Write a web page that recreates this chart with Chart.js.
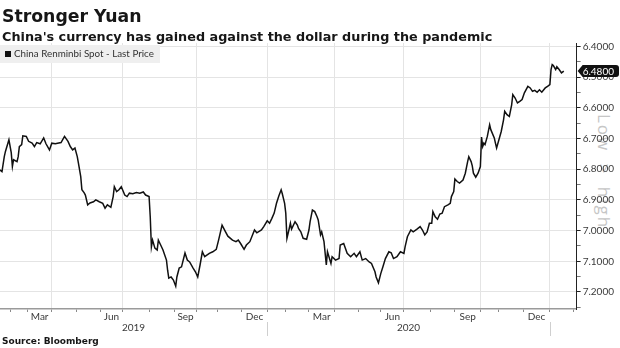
<!DOCTYPE html>
<html><head><meta charset="utf-8">
<script src="https://cdn.jsdelivr.net/npm/chart.js@4.4.1/dist/chart.umd.min.js"></script>
<style>
html,body{margin:0;padding:0;background:#fff;}
#wrap{position:relative;width:620px;height:348px;overflow:hidden;background:#fff;}
#c{position:absolute;left:0;top:0;}
.t{position:absolute;left:2px;font-family:'DejaVu Sans';font-weight:bold;color:#161616;white-space:nowrap;}
#title{top:6px;font-size:17.3px;line-height:20px;}
#sub{top:29.5px;font-size:12.8px;line-height:14px;}
#src{top:336px;font-size:9px;line-height:11px;}
#wm{position:absolute;left:614px;top:114px;transform-origin:0 0;transform:rotate(90deg);font-family:'Open Sans';font-size:17px;letter-spacing:2px;word-spacing:5px;line-height:20px;color:#c6c6c6;white-space:nowrap;}
</style></head><body>
<div id="wrap">
<div id="wm">Low &gt; high</div>
<canvas id="c" width="620" height="348"></canvas>
<div class="t" id="title">Stronger Yuan</div>
<div class="t" id="sub">China's currency has gained against the dollar during the pandemic</div>
<div class="t" id="src">Source: Bloomberg</div>
</div>
<script>
// x = trading-day index counted from 1 Jan 2019 (China onshore calendar)
const tradingDay = [
 13,15,17,18,21,23,24,25,28,29,
 30,32,33,36,38,41,43,45,48,51,
 53,56,58,61,63,66,69,72,74,76,
 78,80,81,83,84,86,87,89,91,94,
 96,99,102,104,106,109,111,112,114,116,
 118,121,123,125,128,131,134,137,139,142,
 143,144,145,147,149,150,152,154,157,158,
 159,161,163,165,166,168,170,173,175,177,
 180,182,184,186,188,190,194,197,200,202,
 205,208,210,214,217,219,221,224,226,229,
 233,235,239,241,244,246,248,250,252,254,
 256,257,259,260,261,263,264,265,268,270,
 271,273,275,278,280,281,283,285,287,288,
 290,291,293,295,296,299,300,303,306,307,
 310,313,316,319,321,324,326,329,332,334,
 337,338,340,342,344,346,349,351,353,356,
 359,362,363,365,368,370,373,376,378,380,
 382,384,386,387,389,391,393,395,397,400,
 402,403,405,406,408,410,413,415,417,418,
 420,421,422,424,426,428,429,430,431,432,
 434,436,437,440,441,442,444,446,448,449,
 451,453,455,456,458,460,462,464,466,469,
 471,473,475,477,479,481,484,486,488,489,
 490,491,493,494,496,498,500
];
const usdCny = [
 6.802,6.808,6.759,6.742,6.704,6.746,6.791,6.769,6.775,6.759,
 6.726,6.720,6.691,6.693,6.709,6.715,6.726,6.713,6.717,6.698,
 6.717,6.737,6.715,6.717,6.715,6.713,6.693,6.709,6.726,6.737,
 6.731,6.759,6.780,6.824,6.867,6.877,6.884,6.916,6.910,6.906,
 6.900,6.906,6.911,6.927,6.916,6.924,6.889,6.857,6.873,6.867,
 6.857,6.884,6.889,6.878,6.880,6.876,6.878,6.874,6.884,6.889,
 6.955,7.053,7.031,7.057,7.063,7.031,7.047,7.063,7.096,7.129,
 7.155,7.151,7.161,7.181,7.151,7.122,7.118,7.073,7.096,7.102,
 7.122,7.134,7.151,7.112,7.069,7.085,7.074,7.069,7.061,7.031,
 6.982,7.004,7.018,7.031,7.036,7.031,7.042,7.061,7.047,7.036,
 6.998,7.007,6.998,6.987,6.968,6.976,6.960,6.943,6.911,6.887,
 6.867,6.880,6.911,6.943,7.025,6.993,6.976,6.995,6.971,6.982,
 6.993,7.004,7.025,7.028,6.998,6.971,6.933,6.938,6.955,6.965,
 7.014,7.004,7.036,7.112,7.069,7.107,7.085,7.096,7.091,7.047,
 7.042,7.074,7.085,7.074,7.085,7.069,7.096,7.091,7.102,7.107,
 7.134,7.151,7.170,7.140,7.116,7.091,7.069,7.072,7.091,7.085,
 7.069,7.074,7.053,7.020,6.998,7.004,6.996,6.987,6.998,7.014,
 7.004,6.976,6.976,6.938,6.955,6.963,6.946,6.943,6.922,6.916,
 6.911,6.889,6.873,6.832,6.840,6.845,6.835,6.813,6.775,6.759,
 6.775,6.789,6.813,6.826,6.813,6.791,6.695,6.726,6.715,6.720,
 6.693,6.655,6.671,6.698,6.715,6.731,6.704,6.677,6.639,6.611,
 6.622,6.628,6.590,6.557,6.568,6.584,6.579,6.573,6.551,6.530,
 6.535,6.546,6.543,6.549,6.541,6.549,6.535,6.530,6.524,6.475,
 6.459,6.462,6.475,6.466,6.475,6.486,6.480
];
const seriesLabel = 'China Renminbi Spot - Last Price';

// axis ranges and tick positions (trading-day index)
const xMin = 13.3, xMax = 511.1;
const yTop = 6.3886, yBottom = 7.2554;
const quarterStarts = [58,119,183,244,302,362,428,488];
const monthStarts = [22,37,79,100,142,164,201,222,260,280,323,342,385,406,444,465,508];
const monthLabelPos = [47.5,109.5,173.5,233,291,352,417,476.5];
const monthLabelText = ['Mar','Jun','Sep','Dec','Mar','Jun','Sep','Dec'];
const yearLabelPos = [128.6,366];
const yearLabelText = ['2019','2020'];
const yearBreaks = [244,488];
const yMajorTicks = [6.4,6.5,6.6,6.7,6.8,6.9,7.0,7.1,7.2];
const yMinorTicks = [6.45,6.55,6.65,6.75,6.85,6.95,7.05,7.15,7.25];

const xTicks = [].concat(
  quarterStarts.map(v=>({value:v,kind:'q',text:''})),
  monthStarts.map(v=>({value:v,kind:'m',text:''})),
  monthLabelPos.map((v,i)=>({value:v,kind:'l',text:monthLabelText[i]}))
).sort((a,b)=>a.value-b.value);
const yrTicks = yearLabelPos.map((v,i)=>({value:v,text:yearLabelText[i]}));
const yTicks = [].concat(
  yMajorTicks.map(v=>({value:v,major:true})),
  yMinorTicks.map(v=>({value:v,major:false}))
).sort((a,b)=>a.value-b.value);

const clear = 'rgba(0,0,0,0)';
const axisFont = {family:'Lato', size:10};

const legendBox = {
  id:'legendBox',
  beforeDatasetsDraw(chart){
    const {ctx, chartArea:a} = chart;
    ctx.save();
    ctx.fillStyle = '#efefef';
    ctx.fillRect(a.left, a.top+2, 160, 18);
    ctx.fillStyle = '#111';
    ctx.fillRect(a.left+5, a.top+8, 6, 6);
    ctx.font = '9.8px Lato';
    ctx.fillStyle = '#333';
    ctx.textBaseline = 'middle';
    ctx.fillText(chart.data.datasets[0].label, a.left+14, a.top+11);
    ctx.restore();
  }
};
const yearSeparators = {
  id:'yearSeparators',
  afterDraw(chart){
    const {ctx} = chart;
    const s = chart.scales.xYear;
    ctx.save();
    ctx.strokeStyle = '#cfcfcf';
    ctx.lineWidth = 1;
    yearBreaks.forEach(v=>{
      const px = Math.round(s.getPixelForValue(v)) + 0.5;
      ctx.beginPath();
      ctx.moveTo(px, s.top);
      ctx.lineTo(px, s.top + 14);
      ctx.stroke();
    });
    ctx.restore();
  }
};
const lastBadge = {
  id:'lastBadge',
  afterDraw(chart){
    const {ctx} = chart;
    const ys = chart.scales.y;
    const v = usdCny[usdCny.length-1];
    const py = Math.round(ys.getPixelForValue(v));
    const x0 = ys.left + 1, x1 = 619, h = 6, r = 3;
    ctx.save();
    ctx.fillStyle = '#111';
    ctx.beginPath();
    ctx.moveTo(x0, py);
    ctx.lineTo(x0+5, py-h);
    ctx.lineTo(x1-r, py-h);
    ctx.arcTo(x1, py-h, x1, py-h+r, r);
    ctx.lineTo(x1, py+h-r);
    ctx.arcTo(x1, py+h, x1-r, py+h, r);
    ctx.lineTo(x0+5, py+h);
    ctx.closePath();
    ctx.fill();
    ctx.fillStyle = '#fff';
    ctx.font = '10px Lato';
    ctx.textBaseline = 'middle';
    ctx.fillText(v.toFixed(4), x0+5, py+0.5);
    ctx.restore();
  }
};

new Chart(document.getElementById('c'), {
  type:'line',
  data:{datasets:[{
    label: seriesLabel,
    data: tradingDay.map((d,i)=>({x:d, y:usdCny[i]})),
    borderColor:'#111', borderWidth:1.5, pointRadius:0, tension:0, fill:false
  }]},
  options:{
    responsive:false, animation:false, devicePixelRatio:1,
    layout:{padding:{left:0,right:4,top:43,bottom:14}},
    plugins:{legend:{display:false}, tooltip:{enabled:false}, title:{display:false}},
    scales:{
      x:{
        type:'linear', position:'bottom', min:xMin, max:xMax,
        afterBuildTicks(s){ s.ticks = xTicks.map(t=>Object.assign({},t)); },
        ticks:{autoSkip:false, maxRotation:0, padding:-1, font:axisFont, color:'#3a3a3a',
          callback:(v,i,t)=>t[i].text},
        grid:{lineWidth:1, tickLength:3,
          color:c=>(c.tick && c.tick.kind==='q') ? '#e4e4e4' : clear,
          tickColor:c=>(c.tick && c.tick.kind!=='l') ? '#8a8a8a' : clear},
        border:{color:'#9a9a9a', width:1.5}
      },
      xYear:{
        axis:'x', type:'linear', position:'bottom', min:xMin, max:xMax,
        afterBuildTicks(s){ s.ticks = yrTicks.map(t=>Object.assign({},t)); },
        ticks:{autoSkip:false, maxRotation:0, padding:0, font:axisFont, color:'#3a3a3a',
          callback:(v,i,t)=>t[i].text},
        grid:{drawOnChartArea:false, drawTicks:false},
        border:{display:false}
      },
      y:{
        type:'linear', position:'right', reverse:true, min:yTop, max:yBottom,
        afterBuildTicks(s){ s.ticks = yTicks.map(t=>Object.assign({},t)); },
        ticks:{autoSkip:false, padding:2, font:axisFont, color:'#3a3a3a',
          callback:(v,i,t)=>t[i].major ? v.toFixed(4) : ''},
        grid:{lineWidth:1, tickLength:4,
          color:c=>(c.tick && c.tick.major) ? '#e4e4e4' : clear,
          tickColor:c=>(c.tick && c.tick.major) ? '#222' : '#777'},
        border:{color:'#222', width:1}
      }
    }
  },
  plugins:[legendBox, yearSeparators, lastBadge]
});
</script>
</body></html>
